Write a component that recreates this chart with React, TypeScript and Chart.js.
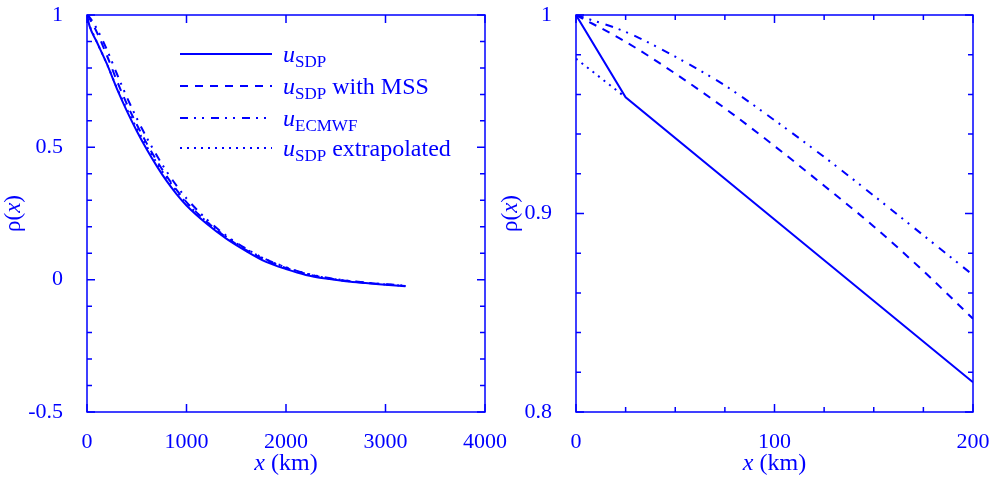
import { useEffect, useRef } from "react";
import { Chart, registerables } from "chart.js";

Chart.register(...registerables);

// ---------- data ----------
// left panel (x in km)
const leftX = [0, 25, 100, 200, 300, 400, 500, 600, 700, 800, 900, 1000, 1200, 1400, 1600, 1800, 2000, 2200, 2400, 2600, 2800, 3000, 3200];
const sdpLeft = [1, 0.959, 0.897, 0.815, 0.722, 0.638, 0.562, 0.493, 0.430, 0.373, 0.323, 0.280, 0.212, 0.155, 0.108, 0.067, 0.040, 0.018, 0.004, -0.006, -0.013, -0.019, -0.025];
const mssLeft = [1, 0.9865, 0.934, 0.847, 0.752, 0.664, 0.586, 0.515, 0.450, 0.391, 0.339, 0.293, 0.220, 0.160, 0.112, 0.073, 0.044, 0.022, 0.007, -0.004, -0.012, -0.018, -0.024];
const ecmwfLeft = [1, 0.9915, 0.947, 0.869, 0.778, 0.690, 0.610, 0.537, 0.470, 0.409, 0.355, 0.307, 0.229, 0.166, 0.117, 0.077, 0.047, 0.024, 0.008, -0.003, -0.011, -0.017, -0.023];
const extrapLeft = [0.978, 0.959, 0.897, 0.815, 0.725, 0.645, 0.572, 0.504, 0.442, 0.385, 0.335, 0.290, 0.220, 0.162, 0.115, 0.076, 0.046, 0.023, 0.007, -0.004, -0.012, -0.018, -0.024];

// right panel (zoom, x in km)
const sdpRightX = [0, 25, 100, 200];
const sdpRight = [1, 0.9585, 0.897, 0.815];
const rightX = [0, 25, 50, 75, 100, 125, 150, 175, 200];
const mssRight = [1, 0.9865, 0.9705, 0.953, 0.934, 0.914, 0.8935, 0.871, 0.847];
const ecmwfRight = [1, 0.9915, 0.979, 0.9645, 0.947, 0.9285, 0.909, 0.889, 0.869];
const extrapRightX = [0, 25];
const extrapRight = [0.978, 0.9585];

// ticks
const leftXMajor = [0, 1000, 2000, 3000, 4000];
const leftXMinor: number[] = [];
const leftYMajor = [-0.5, 0, 0.5, 1];
const leftYMinor = [-0.4, -0.3, -0.2, -0.1, 0.1, 0.2, 0.3, 0.4, 0.6, 0.7, 0.8, 0.9];
const rightXMajor = [0, 100, 200];
const rightXMinor = [25, 50, 75, 125, 150, 175];
const rightYMajor = [0.8, 0.9, 1];
const rightYMinor = [0.82, 0.84, 0.86, 0.88, 0.92, 0.94, 0.96, 0.98];

const legendLabels = [
  { main: "u", sub: "SDP", tail: "" },
  { main: "u", sub: "SDP", tail: " with MSS" },
  { main: "u", sub: "ECMWF", tail: "" },
  { main: "u", sub: "SDP", tail: " extrapolated" },
];

// ---------- styles ----------
const FONT = "'Liberation Serif', 'DejaVu Serif', serif";
const BLUE = "#0000ff";
const DASHES: number[][] = [[], [8, 7], [8, 6, 2, 6, 2, 7], [2, 5]];

type Seg = { t: string; italic?: boolean; size: number; dy?: number };

function fontOf(s: Seg) {
  return `${s.italic ? "italic " : ""}${s.size}px ${FONT}`;
}

function drawSegs(ctx: CanvasRenderingContext2D, segs: Seg[], x: number, y: number, align: "left" | "center") {
  let total = 0;
  for (const s of segs) {
    ctx.font = fontOf(s);
    total += ctx.measureText(s.t).width;
  }
  let cx = align === "center" ? x - total / 2 : x;
  ctx.textAlign = "left";
  for (const s of segs) {
    ctx.font = fontOf(s);
    ctx.fillText(s.t, cx, y + (s.dy || 0));
    cx += ctx.measureText(s.t).width;
  }
}

function pts(xs: number[], ys: number[]) {
  return xs.map((x, i) => ({ x, y: ys[i] }));
}

type PanelDef = {
  xMin: number; xMax: number; xStep: number;
  yMin: number; yMax: number; yStep: number;
  xMajor: number[]; xMinor: number[]; yMajor: number[]; yMinor: number[];
  yAxisWidth: number; padRight: number; yTitleX: number;
  series: { data: { x: number; y: number }[]; dash: number[]; smooth: boolean }[];
  legend: boolean;
};

function makeChart(canvas: HTMLCanvasElement, p: PanelDef) {
  const framePlugin = {
    id: "frameTicks",
    afterDatasetsDraw(chart: any) {
      const ctx: CanvasRenderingContext2D = chart.ctx;
      const ca = chart.chartArea;
      const xs = chart.scales.x;
      const ys = chart.scales.y;
      ctx.save();
      ctx.strokeStyle = BLUE;
      ctx.lineWidth = 1.5;
      ctx.setLineDash([]);
      const tick = (v: number, len: number, axis: "x" | "y") => {
        ctx.beginPath();
        if (axis === "x") {
          const px = xs.getPixelForValue(v);
          ctx.moveTo(px, ca.bottom); ctx.lineTo(px, ca.bottom - len);
          ctx.moveTo(px, ca.top); ctx.lineTo(px, ca.top + len);
        } else {
          const py = ys.getPixelForValue(v);
          ctx.moveTo(ca.left, py); ctx.lineTo(ca.left + len, py);
          ctx.moveTo(ca.right, py); ctx.lineTo(ca.right - len, py);
        }
        ctx.stroke();
      };
      p.xMajor.forEach((v) => tick(v, 8, "x"));
      p.xMinor.forEach((v) => tick(v, 5, "x"));
      p.yMajor.forEach((v) => tick(v, 8, "y"));
      p.yMinor.forEach((v) => tick(v, 5, "y"));
      ctx.strokeRect(ca.left, ca.top, ca.right - ca.left, ca.bottom - ca.top);

      // axis titles
      ctx.fillStyle = BLUE;
      ctx.textBaseline = "alphabetic";
      drawSegs(ctx, [{ t: "x", italic: true, size: 24 }, { t: " (km)", size: 24 }], (ca.left + ca.right) / 2, 470, "center");
      ctx.save();
      ctx.translate(p.yTitleX, (ca.top + ca.bottom) / 2);
      ctx.rotate(-Math.PI / 2);
      drawSegs(ctx, [{ t: "ρ(", size: 23 }, { t: "x", italic: true, size: 23 }, { t: ")", size: 23 }], 0, 0, "center");
      ctx.restore();

      if (p.legend) {
        const rowsY = [54, 86, 118, 148];
        legendLabels.forEach((lab, i) => {
          const y = rowsY[i];
          ctx.beginPath();
          ctx.lineWidth = 2;
          ctx.setLineDash(DASHES[i]);
          ctx.moveTo(180, y);
          ctx.lineTo(272, y);
          ctx.stroke();
          ctx.setLineDash([]);
          const segs: Seg[] = [
            { t: lab.main, italic: true, size: 24 },
            { t: lab.sub, size: 17, dy: 5 },
          ];
          if (lab.tail) segs.push({ t: lab.tail, size: 24 });
          drawSegs(ctx, segs, 283, y + 8, "left");
        });
      }
      ctx.restore();
    },
  };

  return new Chart(canvas, {
    type: "line",
    data: {
      datasets: p.series.map((s) => ({
        data: s.data,
        borderColor: BLUE,
        borderWidth: 2,
        borderDash: s.dash,
        pointRadius: 0,
        fill: false,
        tension: 0,
        cubicInterpolationMode: s.smooth ? ("monotone" as const) : ("default" as const),
      })),
    },
    options: {
      animation: false,
      responsive: false,
      devicePixelRatio: 1,
      layout: { padding: { top: 15, right: p.padRight, left: 0, bottom: 0 } },
      plugins: { legend: { display: false }, tooltip: { enabled: false } },
      scales: {
        x: {
          type: "linear",
          min: p.xMin,
          max: p.xMax,
          grid: { display: false },
          border: { display: false },
          ticks: {
            stepSize: p.xStep,
            color: BLUE,
            padding: 9,
            font: { family: FONT, size: 22 },
            callback: (v: any) => String(v),
            maxRotation: 0,
            autoSkip: false,
          },
          afterFit: (s: any) => {
            s.height = 71;
            s.paddingLeft = 0;
            s.paddingRight = 0;
          },
        },
        y: {
          type: "linear",
          min: p.yMin,
          max: p.yMax,
          grid: { display: false },
          border: { display: false },
          ticks: {
            stepSize: p.yStep,
            color: BLUE,
            padding: 16,
            font: { family: FONT, size: 22 },
            callback: (v: any) => String(Math.round(v * 100) / 100),
            autoSkip: false,
          },
          afterFit: (s: any) => {
            s.width = p.yAxisWidth;
            s.paddingTop = 0;
            s.paddingBottom = 0;
          },
        },
      },
    },
    plugins: [framePlugin],
  } as any);
}

export default function App() {
  const leftRef = useRef<HTMLCanvasElement>(null);
  const rightRef = useRef<HTMLCanvasElement>(null);

  useEffect(() => {
    const left = makeChart(leftRef.current!, {
      xMin: 0, xMax: 4000, xStep: 1000,
      yMin: -0.5, yMax: 1, yStep: 0.5,
      xMajor: leftXMajor, xMinor: leftXMinor, yMajor: leftYMajor, yMinor: leftYMinor,
      yAxisWidth: 87, padRight: 35, yTitleX: 20,
      legend: true,
      series: [
        { data: pts(leftX, sdpLeft), dash: DASHES[0], smooth: true },
        { data: pts(leftX, mssLeft), dash: DASHES[1], smooth: true },
        { data: pts(leftX, ecmwfLeft), dash: DASHES[2], smooth: true },
        { data: pts(leftX, extrapLeft), dash: DASHES[3], smooth: true },
      ],
    });
    const right = makeChart(rightRef.current!, {
      xMin: 0, xMax: 200, xStep: 100,
      yMin: 0.8, yMax: 1, yStep: 0.1,
      xMajor: rightXMajor, xMinor: rightXMinor, yMajor: rightYMajor, yMinor: rightYMinor,
      yAxisWidth: 79, padRight: 21, yTitleX: 20,
      legend: false,
      series: [
        { data: pts(sdpRightX, sdpRight), dash: DASHES[0], smooth: false },
        { data: pts(rightX, mssRight), dash: DASHES[1], smooth: true },
        { data: pts(rightX, ecmwfRight), dash: DASHES[2], smooth: true },
        { data: pts(extrapRightX, extrapRight), dash: DASHES[3], smooth: false },
      ],
    });
    return () => {
      left.destroy();
      right.destroy();
    };
  }, []);

  return (
    <div style={{ position: "absolute", left: 0, top: 0, width: 994, height: 483, background: "#fff" }}>
      <canvas ref={leftRef} width={520} height={483} style={{ position: "absolute", left: 0, top: 0, width: 520, height: 483 }} />
      <canvas ref={rightRef} width={497} height={483} style={{ position: "absolute", left: 497, top: 0, width: 497, height: 483 }} />
    </div>
  );
}
